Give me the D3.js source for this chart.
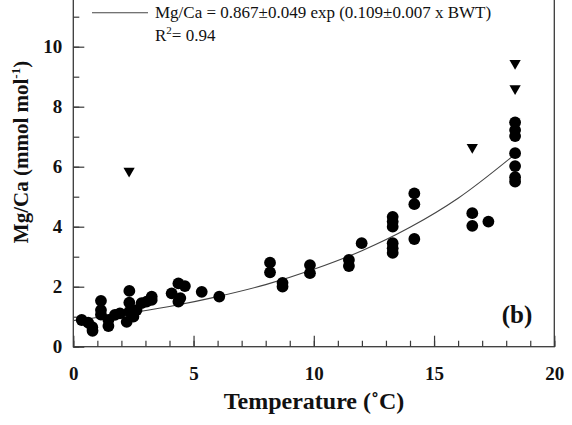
<!DOCTYPE html>
<html>
<head>
<meta charset="utf-8">
<script src="https://cdn.jsdelivr.net/npm/d3@7"></script>
<style>
  body { margin: 0; background: #fff; }
  svg { display: block; }
  svg text { font-family: "Liberation Serif", "Times New Roman", serif; }
</style>
</head>
<body>
<svg id="chart" width="572" height="425"></svg>
<script>
// measured samples (temperature in deg C, Mg/Ca in mmol/mol)
const dotTemp = [0.35, 0.62, 0.79, 0.80, 1.15, 1.15, 1.15, 1.46, 1.46, 1.73, 1.94, 2.22, 2.33, 2.33, 2.33, 2.50, 2.63, 2.84, 3.05, 3.26, 3.26,
  4.09, 4.37, 4.64, 4.37, 4.45, 5.34, 6.07, 8.18, 8.18, 8.70, 8.70, 9.84, 9.84, 11.46, 11.46, 11.99,
  13.28, 13.28, 13.28, 13.28, 13.28, 13.28, 14.18, 14.18, 14.18, 16.59, 16.59, 17.26,
  18.37, 18.37, 18.37, 18.37, 18.37, 18.37, 18.37];
const dotMgCa = [0.89, 0.80, 0.65, 0.53, 1.53, 1.22, 1.07, 0.89, 0.69, 1.06, 1.11, 0.83, 1.86, 1.47, 1.17, 1.00, 1.22, 1.45, 1.50, 1.67, 1.56,
  1.78, 2.11, 2.02, 1.50, 1.62, 1.83, 1.67, 2.80, 2.48, 2.13, 2.00, 2.72, 2.45, 2.89, 2.69, 3.45,
  4.33, 4.17, 4.00, 3.45, 3.28, 3.13, 5.11, 4.75, 3.59, 4.45, 4.03, 4.17,
  7.48, 7.22, 7.02, 6.45, 6.02, 5.65, 5.50];

// excluded samples (triangles)
const triTemp = [2.32, 16.59, 18.37, 18.37];
const triMgCa = [5.86, 6.65, 8.61, 9.45];

// fitted curve
const fitTemp = [0, 2, 4, 6, 8, 10, 12, 14, 16, 18.3];
const fitMgCa = [0.87, 1.08, 1.34, 1.67, 2.07, 2.58, 3.20, 3.98, 4.95, 6.37];

const xMajor = [0, 5, 10, 15, 20];
const yMajor = [0, 2, 4, 6, 8, 10];

const svg = d3.select("#chart");
const axisColor = "#3a3a3a";

const x = d3.scaleLinear().domain([0, 20]).range([73.3, 554.3]);
const y = d3.scaleLinear().domain([0, 12]).range([346.7, -13.3]);

// frame
svg.append("rect")
  .attr("x", x(0)).attr("y", y(12))
  .attr("width", x(20) - x(0)).attr("height", y(0) - y(12))
  .attr("fill", "none").attr("stroke", axisColor).attr("stroke-width", 1.3);

// minor ticks
svg.append("g")
  .attr("transform", "translate(0," + y(0) + ")")
  .call(d3.axisBottom(x).tickValues(d3.range(0, 21, 1)).tickSize(-6).tickFormat(""))
  .call(g => g.select(".domain").remove());
svg.append("g")
  .attr("transform", "translate(" + x(0) + ",0)")
  .call(d3.axisLeft(y).tickValues(d3.range(0, 12, 1)).tickSize(-6).tickFormat(""))
  .call(g => g.select(".domain").remove());

// major ticks + labels
const xAxis = svg.append("g")
  .attr("transform", "translate(0," + y(0) + ")")
  .call(d3.axisBottom(x).tickValues(xMajor).tickSize(-11).tickPadding(20).tickFormat(d3.format("d")));
const yAxis = svg.append("g")
  .attr("transform", "translate(" + x(0) + ",0)")
  .call(d3.axisLeft(y).tickValues(yMajor).tickSize(-11).tickPadding(11).tickFormat(d3.format("d")));

[xAxis, yAxis].forEach(g => {
  g.select(".domain").remove();
  g.attr("font-family", null).attr("font-size", null);
  g.selectAll("text")
    .attr("font-size", 19)
    .attr("font-weight", "bold")
    .attr("fill", "#111");
});
svg.selectAll(".tick line").attr("stroke", axisColor).attr("stroke-width", 1.2);

// fit line
svg.append("path")
  .datum(d3.zip(fitTemp, fitMgCa))
  .attr("fill", "none")
  .attr("stroke", "#444")
  .attr("stroke-width", 1.1)
  .attr("d", d3.line().x(d => x(d[0])).y(d => y(d[1])).curve(d3.curveMonotoneX));

// dots
svg.append("g").selectAll("circle")
  .data(d3.zip(dotTemp, dotMgCa))
  .join("circle")
  .attr("cx", d => x(d[0]))
  .attr("cy", d => y(d[1]))
  .attr("r", 5.9)
  .attr("fill", "#000");

// triangles
const tri = d3.symbol().type(d3.symbolTriangle).size(55);
svg.append("g").selectAll("path")
  .data(d3.zip(triTemp, triMgCa))
  .join("path")
  .attr("d", tri)
  .attr("transform", d => "translate(" + x(d[0]) + "," + y(d[1]) + ") rotate(180)")
  .attr("fill", "#000");

// legend
svg.append("line")
  .attr("x1", 92).attr("x2", 148).attr("y1", 12.7).attr("y2", 12.7)
  .attr("stroke", "#444").attr("stroke-width", 1.1);
svg.append("text")
  .attr("x", 155).attr("y", 18.3)
  .attr("font-size", 17)
  .attr("fill", "#111")
  .text("Mg/Ca = 0.867\u00b10.049 exp (0.109\u00b10.007 x BWT)");
const r2 = svg.append("text")
  .attr("x", 155).attr("y", 40.7)
  .attr("font-size", 17)
  .attr("fill", "#111");
r2.append("tspan").text("R");
r2.append("tspan").attr("font-size", 11).attr("dy", -7).text("2");
r2.append("tspan").attr("dy", 7).text("= 0.94");

// panel label
svg.append("text")
  .attr("x", 517).attr("y", 323)
  .attr("text-anchor", "middle")
  .attr("font-size", 25)
  .attr("font-weight", "bold")
  .attr("fill", "#111")
  .text("(b)");

// axis titles
svg.append("text")
  .attr("x", 314).attr("y", 409)
  .attr("text-anchor", "middle")
  .attr("font-size", 24)
  .attr("font-weight", "bold")
  .attr("fill", "#111")
  .text("Temperature (\u02daC)");

const yTitle = svg.append("text")
  .attr("transform", "translate(28,152) rotate(-90)")
  .attr("text-anchor", "middle")
  .attr("font-size", 21)
  .attr("font-weight", "bold")
  .attr("fill", "#111");
yTitle.append("tspan").text("Mg/Ca (mmol mol");
yTitle.append("tspan").attr("font-size", 13).attr("dy", -8).text("-1");
yTitle.append("tspan").attr("dy", 8).text(")");
</script>
</body>
</html>
